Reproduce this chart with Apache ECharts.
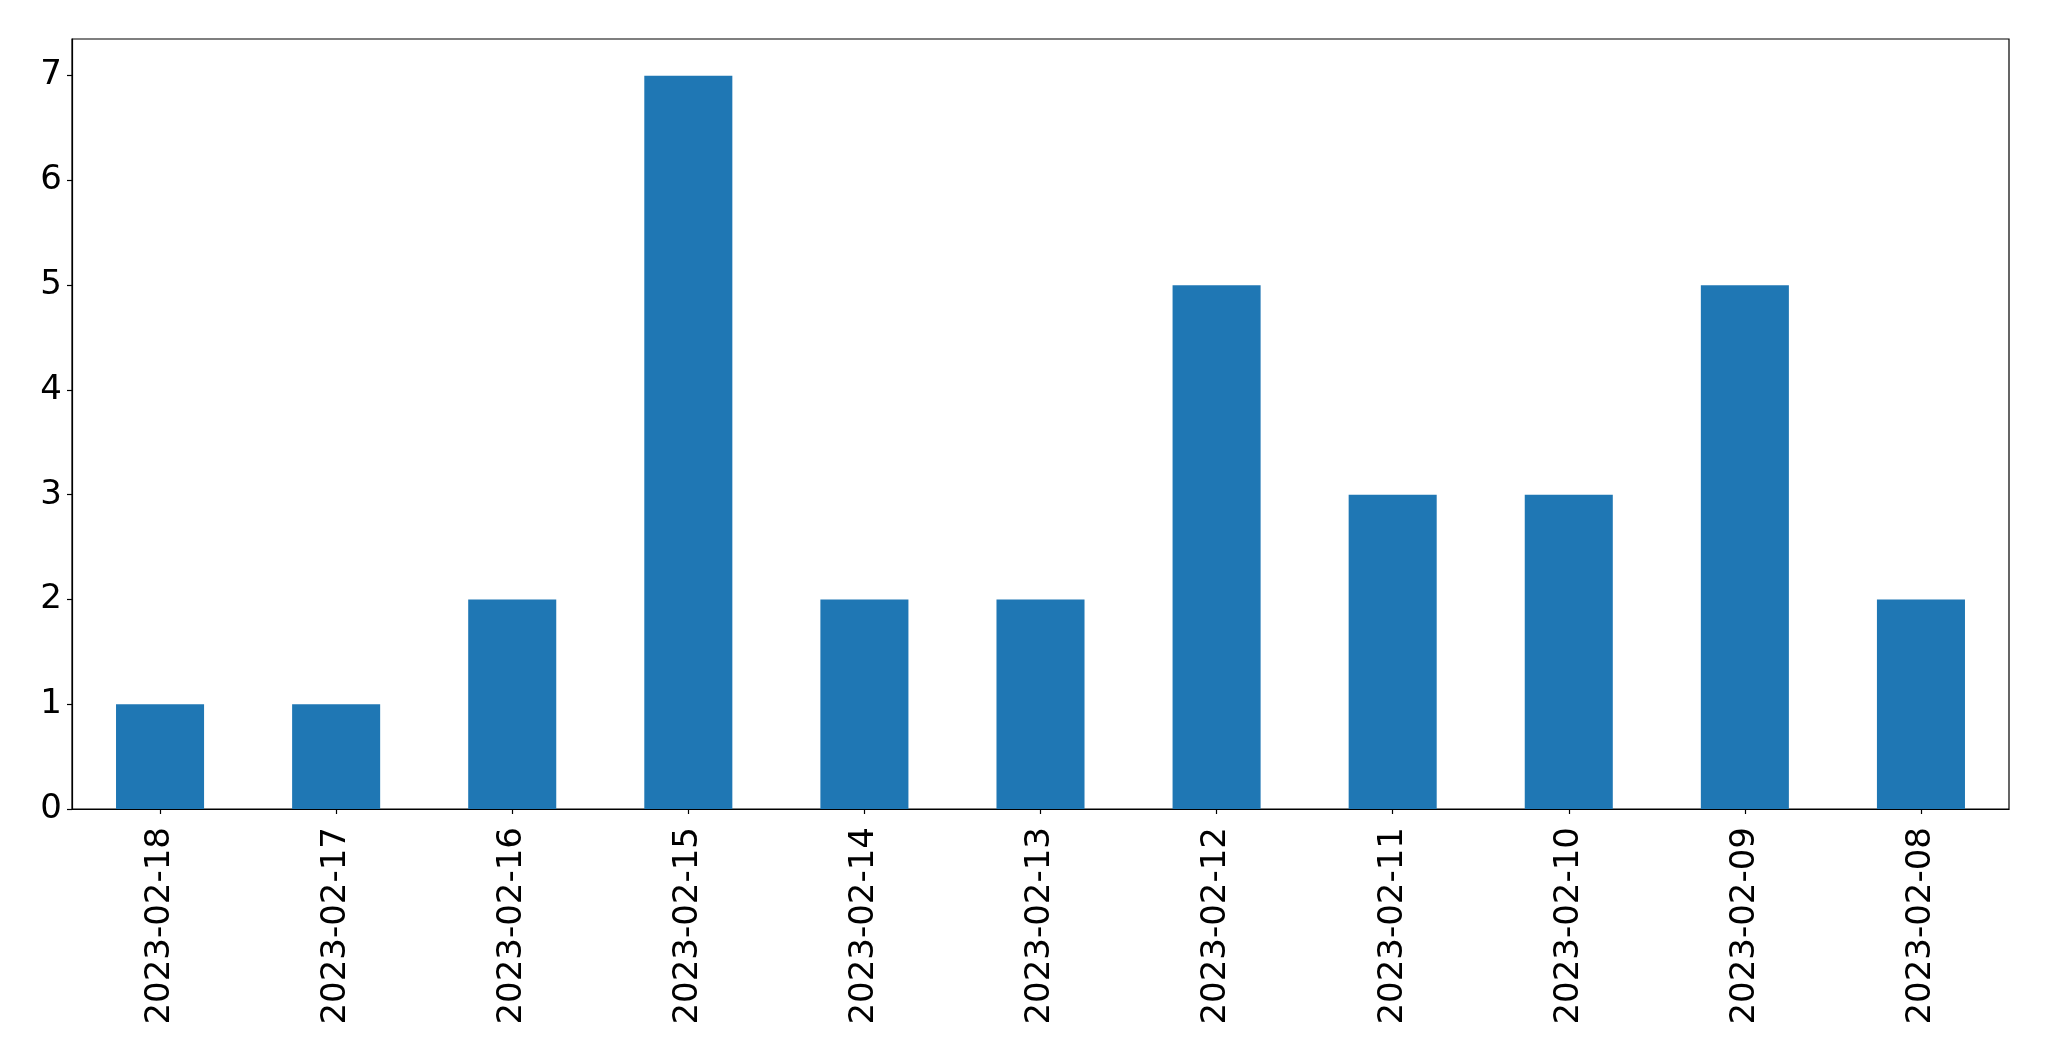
<!DOCTYPE html>
<html>
<head>
<meta charset="utf-8">
<style>
html,body{margin:0;padding:0;background:#fff;}
#chart{width:2049px;height:1061px;}
</style>
<script src="https://cdn.jsdelivr.net/npm/echarts@6/dist/echarts.min.js"></script>
</head>
<body>
<div id="chart"></div>
<script>
const categories = ['2023-02-18','2023-02-17','2023-02-16','2023-02-15','2023-02-14','2023-02-13','2023-02-12','2023-02-11','2023-02-10','2023-02-09','2023-02-08'];
const counts = [1,1,2,7,2,2,5,3,3,5,2];
const yTicks = [0,1,2,3,4,5,6,7];

const chart = echarts.init(document.getElementById('chart'), null, {renderer:'canvas'});
const font = 'DejaVu Sans';
chart.setOption({
  animation:false,
  backgroundColor:'#ffffff',
  grid:{left:72,right:40,top:39,bottom:252,show:true,borderColor:'#000',borderWidth:1.2,backgroundColor:'transparent'},
  xAxis:{
    type:'category',
    data:categories,
    boundaryGap:true,
    axisLine:{show:true,lineStyle:{color:'#000',width:1.2}},
    axisTick:{show:true,alignWithLabel:true,length:5,lineStyle:{color:'#000',width:1.2}},
    axisLabel:{rotate:90,margin:18,fontFamily:font,fontSize:34,color:'#000',interval:0},
    splitLine:{show:false}
  },
  yAxis:{
    type:'value',
    min:0,max:7.35,interval:1,
    axisLine:{show:true,lineStyle:{color:'#000',width:1.2}},
    axisTick:{show:true,length:5,lineStyle:{color:'#000',width:1.2},customValues:yTicks},
    axisLabel:{margin:10,fontFamily:font,fontSize:34,color:'#000',customValues:yTicks,padding:[7,0,0,0]},
    splitLine:{show:false}
  },
  series:[{
    type:'bar',
    data:counts,
    barWidth:'50%',
    itemStyle:{color:'#1f77b4'}
  }]
});
</script>
</body>
</html>
